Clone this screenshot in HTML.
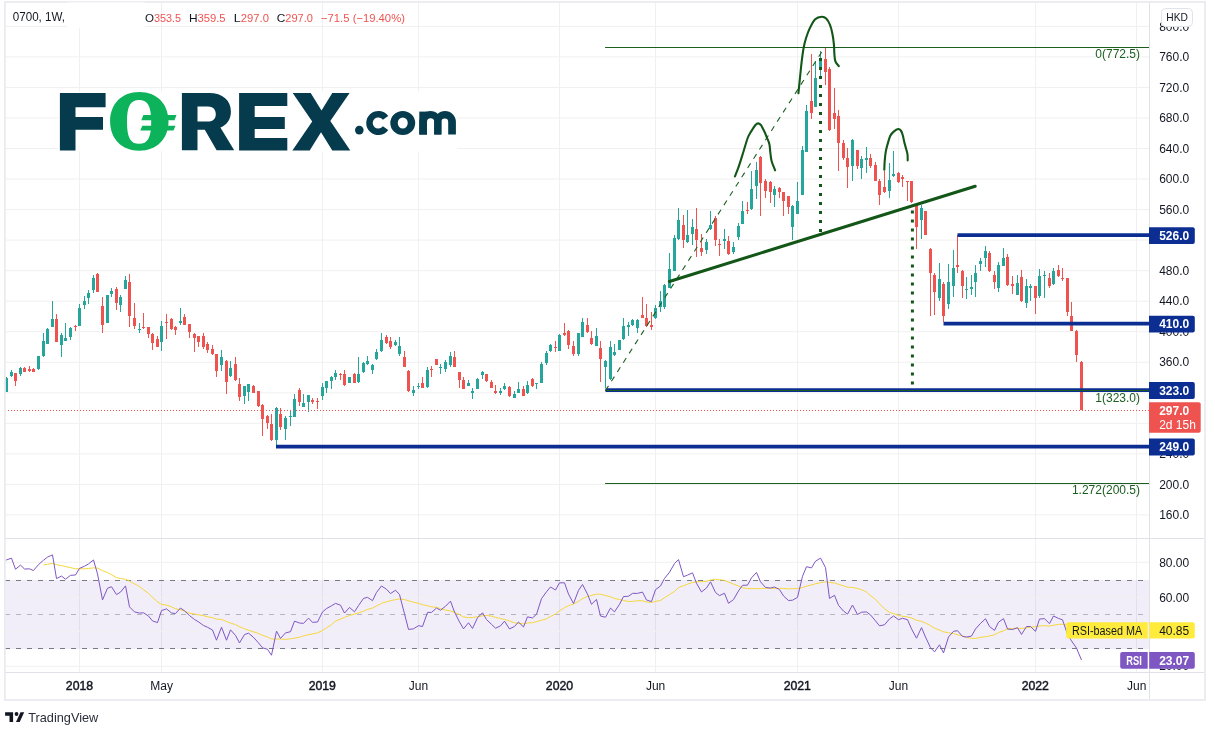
<!DOCTYPE html><html><head><meta charset="utf-8"><style>html,body{margin:0;padding:0;background:#fff;width:1215px;height:735px;overflow:hidden}svg text{font-family:"Liberation Sans",sans-serif}</style></head><body><svg width="1215" height="735" viewBox="0 0 1215 735" style="display:block;will-change:transform">
<defs><clipPath id="pc"><rect x="5.5" y="2.5" width="1143.5" height="535.5"/></clipPath><clipPath id="rc"><rect x="5.5" y="539" width="1143.5" height="133"/></clipPath></defs>
<rect x="0" y="0" width="1215" height="735" fill="#fff"/>
<line x1="79.5" y1="2.5" x2="79.5" y2="538" stroke="#f0f0f0" stroke-width="1"/>
<line x1="79.5" y1="539" x2="79.5" y2="672" stroke="#f0f0f0" stroke-width="1"/>
<line x1="161.5" y1="2.5" x2="161.5" y2="538" stroke="#f0f0f0" stroke-width="1"/>
<line x1="161.5" y1="539" x2="161.5" y2="672" stroke="#f0f0f0" stroke-width="1"/>
<line x1="322.5" y1="2.5" x2="322.5" y2="538" stroke="#f0f0f0" stroke-width="1"/>
<line x1="322.5" y1="539" x2="322.5" y2="672" stroke="#f0f0f0" stroke-width="1"/>
<line x1="418.5" y1="2.5" x2="418.5" y2="538" stroke="#f0f0f0" stroke-width="1"/>
<line x1="418.5" y1="539" x2="418.5" y2="672" stroke="#f0f0f0" stroke-width="1"/>
<line x1="559.5" y1="2.5" x2="559.5" y2="538" stroke="#f0f0f0" stroke-width="1"/>
<line x1="559.5" y1="539" x2="559.5" y2="672" stroke="#f0f0f0" stroke-width="1"/>
<line x1="655.5" y1="2.5" x2="655.5" y2="538" stroke="#f0f0f0" stroke-width="1"/>
<line x1="655.5" y1="539" x2="655.5" y2="672" stroke="#f0f0f0" stroke-width="1"/>
<line x1="797.5" y1="2.5" x2="797.5" y2="538" stroke="#f0f0f0" stroke-width="1"/>
<line x1="797.5" y1="539" x2="797.5" y2="672" stroke="#f0f0f0" stroke-width="1"/>
<line x1="898.5" y1="2.5" x2="898.5" y2="538" stroke="#f0f0f0" stroke-width="1"/>
<line x1="898.5" y1="539" x2="898.5" y2="672" stroke="#f0f0f0" stroke-width="1"/>
<line x1="1035.5" y1="2.5" x2="1035.5" y2="538" stroke="#f0f0f0" stroke-width="1"/>
<line x1="1035.5" y1="539" x2="1035.5" y2="672" stroke="#f0f0f0" stroke-width="1"/>
<line x1="1136.5" y1="2.5" x2="1136.5" y2="538" stroke="#f0f0f0" stroke-width="1"/>
<line x1="1136.5" y1="539" x2="1136.5" y2="672" stroke="#f0f0f0" stroke-width="1"/>
<line x1="5.5" y1="26.40" x2="1149.5" y2="26.40" stroke="#f0f0f0" stroke-width="1"/>
<line x1="5.5" y1="56.93" x2="1149.5" y2="56.93" stroke="#f0f0f0" stroke-width="1"/>
<line x1="5.5" y1="87.46" x2="1149.5" y2="87.46" stroke="#f0f0f0" stroke-width="1"/>
<line x1="5.5" y1="118.00" x2="1149.5" y2="118.00" stroke="#f0f0f0" stroke-width="1"/>
<line x1="5.5" y1="148.53" x2="1149.5" y2="148.53" stroke="#f0f0f0" stroke-width="1"/>
<line x1="5.5" y1="179.06" x2="1149.5" y2="179.06" stroke="#f0f0f0" stroke-width="1"/>
<line x1="5.5" y1="209.59" x2="1149.5" y2="209.59" stroke="#f0f0f0" stroke-width="1"/>
<line x1="5.5" y1="240.12" x2="1149.5" y2="240.12" stroke="#f0f0f0" stroke-width="1"/>
<line x1="5.5" y1="270.66" x2="1149.5" y2="270.66" stroke="#f0f0f0" stroke-width="1"/>
<line x1="5.5" y1="301.19" x2="1149.5" y2="301.19" stroke="#f0f0f0" stroke-width="1"/>
<line x1="5.5" y1="331.72" x2="1149.5" y2="331.72" stroke="#f0f0f0" stroke-width="1"/>
<line x1="5.5" y1="362.25" x2="1149.5" y2="362.25" stroke="#f0f0f0" stroke-width="1"/>
<line x1="5.5" y1="392.78" x2="1149.5" y2="392.78" stroke="#f0f0f0" stroke-width="1"/>
<line x1="5.5" y1="423.32" x2="1149.5" y2="423.32" stroke="#f0f0f0" stroke-width="1"/>
<line x1="5.5" y1="453.85" x2="1149.5" y2="453.85" stroke="#f0f0f0" stroke-width="1"/>
<line x1="5.5" y1="484.38" x2="1149.5" y2="484.38" stroke="#f0f0f0" stroke-width="1"/>
<line x1="5.5" y1="514.91" x2="1149.5" y2="514.91" stroke="#f0f0f0" stroke-width="1"/>
<rect x="5.5" y="580" width="1144.00" height="69" fill="#7e57c2" fill-opacity="0.1"/>
<line x1="5.5" y1="562.30" x2="1149.5" y2="562.30" stroke="#f0f0f0" stroke-width="1"/>
<line x1="5.5" y1="597.30" x2="1149.5" y2="597.30" stroke="#f0f0f0" stroke-width="1"/>
<line x1="5.5" y1="631.30" x2="1149.5" y2="631.30" stroke="#f0f0f0" stroke-width="1"/>
<line x1="5.5" y1="666.20" x2="1149.5" y2="666.20" stroke="#f0f0f0" stroke-width="1"/>
<line x1="5" y1="580.50" x2="1149.5" y2="580.50" stroke="#787b86" stroke-width="1" stroke-dasharray="5 6"/>
<line x1="5" y1="614.50" x2="1149.5" y2="614.50" stroke="#b4b5bd" stroke-width="1" stroke-dasharray="5 6"/>
<line x1="5" y1="648.50" x2="1149.5" y2="648.50" stroke="#787b86" stroke-width="1" stroke-dasharray="5 6"/>
<g clip-path="url(#pc)" shape-rendering="crispEdges">
<rect x="6.0" y="377" width="1" height="15" fill="#26a69a"/>
<rect x="5.0" y="378" width="3" height="14" fill="#26a69a"/>
<rect x="11.0" y="370" width="1" height="7" fill="#26a69a"/>
<rect x="10.0" y="372" width="3" height="4" fill="#26a69a"/>
<rect x="15.0" y="373" width="1" height="13" fill="#ef5350"/>
<rect x="14.0" y="373" width="3" height="8" fill="#ef5350"/>
<rect x="20.0" y="367" width="1" height="9" fill="#26a69a"/>
<rect x="19.0" y="368" width="3" height="6" fill="#26a69a"/>
<rect x="24.0" y="367" width="1" height="5" fill="#ef5350"/>
<rect x="23.0" y="368" width="3" height="4" fill="#ef5350"/>
<rect x="29.0" y="366" width="1" height="6" fill="#ef5350"/>
<rect x="28.0" y="369" width="3" height="2" fill="#ef5350"/>
<rect x="33.0" y="368" width="1" height="4" fill="#ef5350"/>
<rect x="32.0" y="369" width="3" height="3" fill="#ef5350"/>
<rect x="38.0" y="356" width="1" height="14" fill="#26a69a"/>
<rect x="37.0" y="356" width="3" height="13" fill="#26a69a"/>
<rect x="43.0" y="333" width="1" height="24" fill="#26a69a"/>
<rect x="42.0" y="341" width="3" height="15" fill="#26a69a"/>
<rect x="47.0" y="328" width="1" height="16" fill="#26a69a"/>
<rect x="46.0" y="329" width="3" height="15" fill="#26a69a"/>
<rect x="52.0" y="301" width="1" height="26" fill="#26a69a"/>
<rect x="51.0" y="319" width="3" height="8" fill="#26a69a"/>
<rect x="56.0" y="314" width="1" height="28" fill="#ef5350"/>
<rect x="55.0" y="319" width="3" height="23" fill="#ef5350"/>
<rect x="61.0" y="333" width="1" height="24" fill="#26a69a"/>
<rect x="60.0" y="335" width="3" height="10" fill="#26a69a"/>
<rect x="65.0" y="323" width="1" height="18" fill="#26a69a"/>
<rect x="64.0" y="338" width="3" height="3" fill="#26a69a"/>
<rect x="70.0" y="327" width="1" height="13" fill="#26a69a"/>
<rect x="69.0" y="328" width="3" height="9" fill="#26a69a"/>
<rect x="75.0" y="325" width="1" height="6" fill="#ef5350"/>
<rect x="74.0" y="326" width="3" height="1" fill="#ef5350"/>
<rect x="79.0" y="304" width="1" height="22" fill="#26a69a"/>
<rect x="78.0" y="308" width="3" height="18" fill="#26a69a"/>
<rect x="84.0" y="296" width="1" height="13" fill="#26a69a"/>
<rect x="83.0" y="301" width="3" height="4" fill="#26a69a"/>
<rect x="88.0" y="290" width="1" height="14" fill="#26a69a"/>
<rect x="87.0" y="293" width="3" height="5" fill="#26a69a"/>
<rect x="93.0" y="275" width="1" height="18" fill="#26a69a"/>
<rect x="92.0" y="278" width="3" height="12" fill="#26a69a"/>
<rect x="97.0" y="273" width="1" height="19" fill="#ef5350"/>
<rect x="96.0" y="274" width="3" height="18" fill="#ef5350"/>
<rect x="102.0" y="297" width="1" height="36" fill="#ef5350"/>
<rect x="101.0" y="306" width="3" height="19" fill="#ef5350"/>
<rect x="107.0" y="295" width="1" height="28" fill="#26a69a"/>
<rect x="106.0" y="295" width="3" height="28" fill="#26a69a"/>
<rect x="111.0" y="288" width="1" height="9" fill="#26a69a"/>
<rect x="110.0" y="291" width="3" height="3" fill="#26a69a"/>
<rect x="116.0" y="287" width="1" height="23" fill="#ef5350"/>
<rect x="115.0" y="289" width="3" height="14" fill="#ef5350"/>
<rect x="120.0" y="295" width="1" height="17" fill="#26a69a"/>
<rect x="119.0" y="297" width="3" height="8" fill="#26a69a"/>
<rect x="125.0" y="276" width="1" height="13" fill="#26a69a"/>
<rect x="124.0" y="280" width="3" height="9" fill="#26a69a"/>
<rect x="129.0" y="274" width="1" height="53" fill="#ef5350"/>
<rect x="128.0" y="282" width="3" height="34" fill="#ef5350"/>
<rect x="134.0" y="303" width="1" height="26" fill="#ef5350"/>
<rect x="133.0" y="318" width="3" height="8" fill="#ef5350"/>
<rect x="139.0" y="323" width="1" height="10" fill="#26a69a"/>
<rect x="138.0" y="329" width="3" height="1" fill="#26a69a"/>
<rect x="143.0" y="313" width="1" height="16" fill="#ef5350"/>
<rect x="142.0" y="327" width="3" height="1" fill="#ef5350"/>
<rect x="148.0" y="327" width="1" height="11" fill="#ef5350"/>
<rect x="147.0" y="327" width="3" height="7" fill="#ef5350"/>
<rect x="152.0" y="333" width="1" height="17" fill="#ef5350"/>
<rect x="151.0" y="334" width="3" height="9" fill="#ef5350"/>
<rect x="157.0" y="336" width="1" height="11" fill="#ef5350"/>
<rect x="156.0" y="339" width="3" height="8" fill="#ef5350"/>
<rect x="161.0" y="321" width="1" height="30" fill="#26a69a"/>
<rect x="160.0" y="326" width="3" height="16" fill="#26a69a"/>
<rect x="166.0" y="314" width="1" height="25" fill="#ef5350"/>
<rect x="165.0" y="322" width="3" height="1" fill="#ef5350"/>
<rect x="171.0" y="318" width="1" height="12" fill="#ef5350"/>
<rect x="170.0" y="319" width="3" height="10" fill="#ef5350"/>
<rect x="175.0" y="326" width="1" height="9" fill="#ef5350"/>
<rect x="174.0" y="327" width="3" height="3" fill="#ef5350"/>
<rect x="180.0" y="308" width="1" height="17" fill="#26a69a"/>
<rect x="179.0" y="321" width="3" height="2" fill="#26a69a"/>
<rect x="184.0" y="314" width="1" height="11" fill="#ef5350"/>
<rect x="183.0" y="317" width="3" height="8" fill="#ef5350"/>
<rect x="189.0" y="324" width="1" height="14" fill="#ef5350"/>
<rect x="188.0" y="324" width="3" height="8" fill="#ef5350"/>
<rect x="194.0" y="333" width="1" height="19" fill="#ef5350"/>
<rect x="193.0" y="334" width="3" height="4" fill="#ef5350"/>
<rect x="198.0" y="336" width="1" height="11" fill="#ef5350"/>
<rect x="197.0" y="336" width="3" height="6" fill="#ef5350"/>
<rect x="203.0" y="333" width="1" height="16" fill="#ef5350"/>
<rect x="202.0" y="336" width="3" height="11" fill="#ef5350"/>
<rect x="207.0" y="342" width="1" height="11" fill="#ef5350"/>
<rect x="206.0" y="344" width="3" height="6" fill="#ef5350"/>
<rect x="212.0" y="345" width="1" height="10" fill="#ef5350"/>
<rect x="211.0" y="349" width="3" height="5" fill="#ef5350"/>
<rect x="216.0" y="354" width="1" height="23" fill="#ef5350"/>
<rect x="215.0" y="354" width="3" height="17" fill="#ef5350"/>
<rect x="221.0" y="350" width="1" height="21" fill="#26a69a"/>
<rect x="220.0" y="357" width="3" height="8" fill="#26a69a"/>
<rect x="226.0" y="360" width="1" height="34" fill="#ef5350"/>
<rect x="225.0" y="361" width="3" height="21" fill="#ef5350"/>
<rect x="230.0" y="361" width="1" height="16" fill="#26a69a"/>
<rect x="229.0" y="368" width="3" height="8" fill="#26a69a"/>
<rect x="235.0" y="357" width="1" height="24" fill="#ef5350"/>
<rect x="234.0" y="364" width="3" height="16" fill="#ef5350"/>
<rect x="239.0" y="378" width="1" height="23" fill="#ef5350"/>
<rect x="238.0" y="384" width="3" height="13" fill="#ef5350"/>
<rect x="244.0" y="386" width="1" height="18" fill="#26a69a"/>
<rect x="243.0" y="386" width="3" height="10" fill="#26a69a"/>
<rect x="248.0" y="384" width="1" height="17" fill="#26a69a"/>
<rect x="247.0" y="384" width="3" height="8" fill="#26a69a"/>
<rect x="253.0" y="385" width="1" height="8" fill="#ef5350"/>
<rect x="252.0" y="386" width="3" height="7" fill="#ef5350"/>
<rect x="258.0" y="391" width="1" height="16" fill="#ef5350"/>
<rect x="257.0" y="391" width="3" height="15" fill="#ef5350"/>
<rect x="262.0" y="404" width="1" height="32" fill="#ef5350"/>
<rect x="261.0" y="405" width="3" height="14" fill="#ef5350"/>
<rect x="267.0" y="415" width="1" height="14" fill="#ef5350"/>
<rect x="266.0" y="416" width="3" height="7" fill="#ef5350"/>
<rect x="271.0" y="414" width="1" height="27" fill="#ef5350"/>
<rect x="270.0" y="424" width="3" height="16" fill="#ef5350"/>
<rect x="276.0" y="407" width="1" height="39" fill="#26a69a"/>
<rect x="275.0" y="408" width="3" height="32" fill="#26a69a"/>
<rect x="280.0" y="408" width="1" height="22" fill="#ef5350"/>
<rect x="279.0" y="414" width="3" height="13" fill="#ef5350"/>
<rect x="285.0" y="416" width="1" height="24" fill="#26a69a"/>
<rect x="284.0" y="418" width="3" height="11" fill="#26a69a"/>
<rect x="290.0" y="410" width="1" height="16" fill="#26a69a"/>
<rect x="289.0" y="416" width="3" height="1" fill="#26a69a"/>
<rect x="294.0" y="394" width="1" height="23" fill="#26a69a"/>
<rect x="293.0" y="399" width="3" height="18" fill="#26a69a"/>
<rect x="299.0" y="388" width="1" height="18" fill="#ef5350"/>
<rect x="298.0" y="390" width="3" height="12" fill="#ef5350"/>
<rect x="303.0" y="394" width="1" height="13" fill="#26a69a"/>
<rect x="302.0" y="403" width="3" height="4" fill="#26a69a"/>
<rect x="308.0" y="395" width="1" height="17" fill="#26a69a"/>
<rect x="307.0" y="395" width="3" height="7" fill="#26a69a"/>
<rect x="312.0" y="398" width="1" height="6" fill="#ef5350"/>
<rect x="311.0" y="400" width="3" height="2" fill="#ef5350"/>
<rect x="317.0" y="398" width="1" height="11" fill="#ef5350"/>
<rect x="316.0" y="401" width="3" height="1" fill="#ef5350"/>
<rect x="322.0" y="383" width="1" height="17" fill="#26a69a"/>
<rect x="321.0" y="387" width="3" height="9" fill="#26a69a"/>
<rect x="326.0" y="381" width="1" height="12" fill="#26a69a"/>
<rect x="325.0" y="381" width="3" height="7" fill="#26a69a"/>
<rect x="331.0" y="376" width="1" height="13" fill="#26a69a"/>
<rect x="330.0" y="377" width="3" height="4" fill="#26a69a"/>
<rect x="335.0" y="370" width="1" height="10" fill="#26a69a"/>
<rect x="334.0" y="373" width="3" height="4" fill="#26a69a"/>
<rect x="340.0" y="373" width="1" height="7" fill="#ef5350"/>
<rect x="339.0" y="374" width="3" height="1" fill="#ef5350"/>
<rect x="344.0" y="370" width="1" height="16" fill="#ef5350"/>
<rect x="343.0" y="374" width="3" height="11" fill="#ef5350"/>
<rect x="349.0" y="377" width="1" height="6" fill="#26a69a"/>
<rect x="348.0" y="377" width="3" height="6" fill="#26a69a"/>
<rect x="354.0" y="373" width="1" height="10" fill="#ef5350"/>
<rect x="353.0" y="374" width="3" height="9" fill="#ef5350"/>
<rect x="358.0" y="357" width="1" height="26" fill="#26a69a"/>
<rect x="357.0" y="374" width="3" height="8" fill="#26a69a"/>
<rect x="363.0" y="362" width="1" height="11" fill="#26a69a"/>
<rect x="362.0" y="363" width="3" height="9" fill="#26a69a"/>
<rect x="367.0" y="356" width="1" height="9" fill="#26a69a"/>
<rect x="366.0" y="361" width="3" height="3" fill="#26a69a"/>
<rect x="372.0" y="364" width="1" height="10" fill="#26a69a"/>
<rect x="371.0" y="365" width="3" height="5" fill="#26a69a"/>
<rect x="376.0" y="349" width="1" height="11" fill="#26a69a"/>
<rect x="375.0" y="352" width="3" height="7" fill="#26a69a"/>
<rect x="381.0" y="333" width="1" height="19" fill="#26a69a"/>
<rect x="380.0" y="340" width="3" height="11" fill="#26a69a"/>
<rect x="386.0" y="335" width="1" height="9" fill="#ef5350"/>
<rect x="385.0" y="337" width="3" height="6" fill="#ef5350"/>
<rect x="390.0" y="337" width="1" height="12" fill="#ef5350"/>
<rect x="389.0" y="341" width="3" height="6" fill="#ef5350"/>
<rect x="395.0" y="340" width="1" height="6" fill="#26a69a"/>
<rect x="394.0" y="342" width="3" height="3" fill="#26a69a"/>
<rect x="399.0" y="337" width="1" height="19" fill="#26a69a"/>
<rect x="398.0" y="346" width="3" height="8" fill="#26a69a"/>
<rect x="404.0" y="351" width="1" height="16" fill="#ef5350"/>
<rect x="403.0" y="357" width="3" height="10" fill="#ef5350"/>
<rect x="408.0" y="370" width="1" height="22" fill="#ef5350"/>
<rect x="407.0" y="371" width="3" height="20" fill="#ef5350"/>
<rect x="413.0" y="386" width="1" height="10" fill="#26a69a"/>
<rect x="412.0" y="390" width="3" height="3" fill="#26a69a"/>
<rect x="418.0" y="383" width="1" height="6" fill="#26a69a"/>
<rect x="417.0" y="386" width="3" height="1" fill="#26a69a"/>
<rect x="422.0" y="377" width="1" height="11" fill="#ef5350"/>
<rect x="421.0" y="383" width="3" height="5" fill="#ef5350"/>
<rect x="427.0" y="367" width="1" height="21" fill="#26a69a"/>
<rect x="426.0" y="370" width="3" height="17" fill="#26a69a"/>
<rect x="431.0" y="366" width="1" height="11" fill="#ef5350"/>
<rect x="430.0" y="369" width="3" height="1" fill="#ef5350"/>
<rect x="436.0" y="359" width="1" height="6" fill="#ef5350"/>
<rect x="435.0" y="359" width="3" height="6" fill="#ef5350"/>
<rect x="440.0" y="364" width="1" height="10" fill="#26a69a"/>
<rect x="439.0" y="367" width="3" height="1" fill="#26a69a"/>
<rect x="445.0" y="360" width="1" height="12" fill="#26a69a"/>
<rect x="444.0" y="362" width="3" height="7" fill="#26a69a"/>
<rect x="450.0" y="352" width="1" height="15" fill="#26a69a"/>
<rect x="449.0" y="356" width="3" height="9" fill="#26a69a"/>
<rect x="454.0" y="351" width="1" height="16" fill="#ef5350"/>
<rect x="453.0" y="357" width="3" height="10" fill="#ef5350"/>
<rect x="459.0" y="372" width="1" height="16" fill="#ef5350"/>
<rect x="458.0" y="372" width="3" height="8" fill="#ef5350"/>
<rect x="463.0" y="377" width="1" height="12" fill="#ef5350"/>
<rect x="462.0" y="380" width="3" height="9" fill="#ef5350"/>
<rect x="468.0" y="380" width="1" height="6" fill="#26a69a"/>
<rect x="467.0" y="383" width="3" height="3" fill="#26a69a"/>
<rect x="472.0" y="388" width="1" height="11" fill="#26a69a"/>
<rect x="471.0" y="391" width="3" height="2" fill="#26a69a"/>
<rect x="477.0" y="378" width="1" height="11" fill="#26a69a"/>
<rect x="476.0" y="379" width="3" height="10" fill="#26a69a"/>
<rect x="482.0" y="371" width="1" height="8" fill="#26a69a"/>
<rect x="481.0" y="372" width="3" height="3" fill="#26a69a"/>
<rect x="486.0" y="374" width="1" height="8" fill="#ef5350"/>
<rect x="485.0" y="374" width="3" height="7" fill="#ef5350"/>
<rect x="491.0" y="380" width="1" height="8" fill="#ef5350"/>
<rect x="490.0" y="382" width="3" height="6" fill="#ef5350"/>
<rect x="495.0" y="385" width="1" height="9" fill="#ef5350"/>
<rect x="494.0" y="391" width="3" height="2" fill="#ef5350"/>
<rect x="500.0" y="388" width="1" height="7" fill="#26a69a"/>
<rect x="499.0" y="391" width="3" height="2" fill="#26a69a"/>
<rect x="504.0" y="383" width="1" height="7" fill="#26a69a"/>
<rect x="503.0" y="386" width="3" height="3" fill="#26a69a"/>
<rect x="509.0" y="386" width="1" height="11" fill="#ef5350"/>
<rect x="508.0" y="387" width="3" height="9" fill="#ef5350"/>
<rect x="514.0" y="391" width="1" height="7" fill="#26a69a"/>
<rect x="513.0" y="394" width="3" height="4" fill="#26a69a"/>
<rect x="518.0" y="382" width="1" height="11" fill="#26a69a"/>
<rect x="517.0" y="389" width="3" height="4" fill="#26a69a"/>
<rect x="523.0" y="386" width="1" height="10" fill="#ef5350"/>
<rect x="522.0" y="389" width="3" height="7" fill="#ef5350"/>
<rect x="527.0" y="381" width="1" height="13" fill="#26a69a"/>
<rect x="526.0" y="385" width="3" height="8" fill="#26a69a"/>
<rect x="532.0" y="378" width="1" height="9" fill="#ef5350"/>
<rect x="531.0" y="379" width="3" height="7" fill="#ef5350"/>
<rect x="536.0" y="383" width="1" height="6" fill="#26a69a"/>
<rect x="535.0" y="383" width="3" height="1" fill="#26a69a"/>
<rect x="541.0" y="362" width="1" height="21" fill="#26a69a"/>
<rect x="540.0" y="364" width="3" height="19" fill="#26a69a"/>
<rect x="546.0" y="351" width="1" height="14" fill="#26a69a"/>
<rect x="545.0" y="353" width="3" height="10" fill="#26a69a"/>
<rect x="550.0" y="344" width="1" height="8" fill="#26a69a"/>
<rect x="549.0" y="345" width="3" height="6" fill="#26a69a"/>
<rect x="555.0" y="341" width="1" height="11" fill="#ef5350"/>
<rect x="554.0" y="347" width="3" height="1" fill="#ef5350"/>
<rect x="559.0" y="334" width="1" height="17" fill="#26a69a"/>
<rect x="558.0" y="335" width="3" height="16" fill="#26a69a"/>
<rect x="564.0" y="323" width="1" height="13" fill="#ef5350"/>
<rect x="563.0" y="333" width="3" height="2" fill="#ef5350"/>
<rect x="568.0" y="330" width="1" height="19" fill="#ef5350"/>
<rect x="567.0" y="331" width="3" height="14" fill="#ef5350"/>
<rect x="573.0" y="341" width="1" height="15" fill="#ef5350"/>
<rect x="572.0" y="346" width="3" height="8" fill="#ef5350"/>
<rect x="578.0" y="333" width="1" height="23" fill="#26a69a"/>
<rect x="577.0" y="333" width="3" height="21" fill="#26a69a"/>
<rect x="582.0" y="318" width="1" height="19" fill="#26a69a"/>
<rect x="581.0" y="322" width="3" height="15" fill="#26a69a"/>
<rect x="587.0" y="318" width="1" height="15" fill="#ef5350"/>
<rect x="586.0" y="325" width="3" height="7" fill="#ef5350"/>
<rect x="591.0" y="331" width="1" height="14" fill="#ef5350"/>
<rect x="590.0" y="338" width="3" height="6" fill="#ef5350"/>
<rect x="596.0" y="328" width="1" height="18" fill="#26a69a"/>
<rect x="595.0" y="336" width="3" height="10" fill="#26a69a"/>
<rect x="600.0" y="341" width="1" height="41" fill="#ef5350"/>
<rect x="599.0" y="348" width="3" height="11" fill="#ef5350"/>
<rect x="605.0" y="360" width="1" height="28" fill="#26a69a"/>
<rect x="604.0" y="361" width="3" height="6" fill="#26a69a"/>
<rect x="610.0" y="341" width="1" height="39" fill="#26a69a"/>
<rect x="609.0" y="347" width="3" height="32" fill="#26a69a"/>
<rect x="614.0" y="344" width="1" height="12" fill="#26a69a"/>
<rect x="613.0" y="352" width="3" height="3" fill="#26a69a"/>
<rect x="619.0" y="340" width="1" height="10" fill="#26a69a"/>
<rect x="618.0" y="340" width="3" height="10" fill="#26a69a"/>
<rect x="623.0" y="318" width="1" height="22" fill="#26a69a"/>
<rect x="622.0" y="326" width="3" height="13" fill="#26a69a"/>
<rect x="628.0" y="322" width="1" height="14" fill="#26a69a"/>
<rect x="627.0" y="325" width="3" height="2" fill="#26a69a"/>
<rect x="632.0" y="319" width="1" height="7" fill="#26a69a"/>
<rect x="631.0" y="320" width="3" height="5" fill="#26a69a"/>
<rect x="637.0" y="319" width="1" height="14" fill="#26a69a"/>
<rect x="636.0" y="320" width="3" height="8" fill="#26a69a"/>
<rect x="642.0" y="297" width="1" height="21" fill="#ef5350"/>
<rect x="641.0" y="315" width="3" height="3" fill="#ef5350"/>
<rect x="646.0" y="304" width="1" height="23" fill="#ef5350"/>
<rect x="645.0" y="318" width="3" height="8" fill="#ef5350"/>
<rect x="651.0" y="312" width="1" height="18" fill="#ef5350"/>
<rect x="650.0" y="325" width="3" height="2" fill="#ef5350"/>
<rect x="655.0" y="305" width="1" height="14" fill="#26a69a"/>
<rect x="654.0" y="308" width="3" height="10" fill="#26a69a"/>
<rect x="660.0" y="291" width="1" height="21" fill="#26a69a"/>
<rect x="659.0" y="301" width="3" height="6" fill="#26a69a"/>
<rect x="664.0" y="284" width="1" height="25" fill="#26a69a"/>
<rect x="663.0" y="285" width="3" height="22" fill="#26a69a"/>
<rect x="669.0" y="253" width="1" height="35" fill="#26a69a"/>
<rect x="668.0" y="269" width="3" height="19" fill="#26a69a"/>
<rect x="674.0" y="235" width="1" height="36" fill="#26a69a"/>
<rect x="673.0" y="238" width="3" height="33" fill="#26a69a"/>
<rect x="678.0" y="208" width="1" height="32" fill="#26a69a"/>
<rect x="677.0" y="220" width="3" height="19" fill="#26a69a"/>
<rect x="683.0" y="215" width="1" height="33" fill="#ef5350"/>
<rect x="682.0" y="225" width="3" height="15" fill="#ef5350"/>
<rect x="687.0" y="210" width="1" height="33" fill="#26a69a"/>
<rect x="686.0" y="235" width="3" height="7" fill="#26a69a"/>
<rect x="692.0" y="219" width="1" height="26" fill="#26a69a"/>
<rect x="691.0" y="227" width="3" height="7" fill="#26a69a"/>
<rect x="696.0" y="208" width="1" height="49" fill="#ef5350"/>
<rect x="695.0" y="229" width="3" height="11" fill="#ef5350"/>
<rect x="701.0" y="234" width="1" height="22" fill="#ef5350"/>
<rect x="700.0" y="248" width="3" height="4" fill="#ef5350"/>
<rect x="706.0" y="239" width="1" height="15" fill="#26a69a"/>
<rect x="705.0" y="242" width="3" height="8" fill="#26a69a"/>
<rect x="710.0" y="211" width="1" height="19" fill="#26a69a"/>
<rect x="709.0" y="225" width="3" height="4" fill="#26a69a"/>
<rect x="715.0" y="216" width="1" height="30" fill="#ef5350"/>
<rect x="714.0" y="218" width="3" height="22" fill="#ef5350"/>
<rect x="719.0" y="239" width="1" height="17" fill="#ef5350"/>
<rect x="718.0" y="244" width="3" height="1" fill="#ef5350"/>
<rect x="724.0" y="229" width="1" height="20" fill="#26a69a"/>
<rect x="723.0" y="239" width="3" height="2" fill="#26a69a"/>
<rect x="728.0" y="236" width="1" height="19" fill="#ef5350"/>
<rect x="727.0" y="241" width="3" height="13" fill="#ef5350"/>
<rect x="733.0" y="242" width="1" height="12" fill="#26a69a"/>
<rect x="732.0" y="247" width="3" height="5" fill="#26a69a"/>
<rect x="738.0" y="223" width="1" height="17" fill="#26a69a"/>
<rect x="737.0" y="226" width="3" height="11" fill="#26a69a"/>
<rect x="742.0" y="201" width="1" height="23" fill="#26a69a"/>
<rect x="741.0" y="211" width="3" height="13" fill="#26a69a"/>
<rect x="747.0" y="202" width="1" height="12" fill="#ef5350"/>
<rect x="746.0" y="210" width="3" height="1" fill="#ef5350"/>
<rect x="751.0" y="171" width="1" height="39" fill="#26a69a"/>
<rect x="750.0" y="189" width="3" height="20" fill="#26a69a"/>
<rect x="756.0" y="162" width="1" height="37" fill="#26a69a"/>
<rect x="755.0" y="170" width="3" height="16" fill="#26a69a"/>
<rect x="760.0" y="156" width="1" height="60" fill="#ef5350"/>
<rect x="759.0" y="157" width="3" height="26" fill="#ef5350"/>
<rect x="765.0" y="179" width="1" height="19" fill="#ef5350"/>
<rect x="764.0" y="181" width="3" height="10" fill="#ef5350"/>
<rect x="770.0" y="181" width="1" height="22" fill="#ef5350"/>
<rect x="769.0" y="182" width="3" height="10" fill="#ef5350"/>
<rect x="774.0" y="186" width="1" height="21" fill="#26a69a"/>
<rect x="773.0" y="189" width="3" height="6" fill="#26a69a"/>
<rect x="779.0" y="187" width="1" height="11" fill="#ef5350"/>
<rect x="778.0" y="188" width="3" height="4" fill="#ef5350"/>
<rect x="783.0" y="192" width="1" height="24" fill="#ef5350"/>
<rect x="782.0" y="192" width="3" height="9" fill="#ef5350"/>
<rect x="788.0" y="196" width="1" height="18" fill="#ef5350"/>
<rect x="787.0" y="196" width="3" height="11" fill="#ef5350"/>
<rect x="792.0" y="205" width="1" height="35" fill="#26a69a"/>
<rect x="791.0" y="206" width="3" height="21" fill="#26a69a"/>
<rect x="797.0" y="182" width="1" height="32" fill="#26a69a"/>
<rect x="796.0" y="201" width="3" height="13" fill="#26a69a"/>
<rect x="802.0" y="146" width="1" height="49" fill="#26a69a"/>
<rect x="801.0" y="150" width="3" height="45" fill="#26a69a"/>
<rect x="806.0" y="105" width="1" height="47" fill="#26a69a"/>
<rect x="805.0" y="111" width="3" height="41" fill="#26a69a"/>
<rect x="811.0" y="54" width="1" height="65" fill="#ef5350"/>
<rect x="810.0" y="101" width="3" height="12" fill="#ef5350"/>
<rect x="815.0" y="61" width="1" height="46" fill="#26a69a"/>
<rect x="814.0" y="78" width="3" height="29" fill="#26a69a"/>
<rect x="820.0" y="51" width="1" height="26" fill="#26a69a"/>
<rect x="819.0" y="58" width="3" height="11" fill="#26a69a"/>
<rect x="825.0" y="48" width="1" height="37" fill="#ef5350"/>
<rect x="824.0" y="59" width="3" height="13" fill="#ef5350"/>
<rect x="829.0" y="67" width="1" height="64" fill="#ef5350"/>
<rect x="828.0" y="69" width="3" height="61" fill="#ef5350"/>
<rect x="834.0" y="88" width="1" height="41" fill="#ef5350"/>
<rect x="833.0" y="113" width="3" height="6" fill="#ef5350"/>
<rect x="838.0" y="110" width="1" height="61" fill="#ef5350"/>
<rect x="837.0" y="116" width="3" height="27" fill="#ef5350"/>
<rect x="843.0" y="140" width="1" height="20" fill="#ef5350"/>
<rect x="842.0" y="143" width="3" height="15" fill="#ef5350"/>
<rect x="847.0" y="148" width="1" height="40" fill="#ef5350"/>
<rect x="846.0" y="158" width="3" height="9" fill="#ef5350"/>
<rect x="852.0" y="139" width="1" height="42" fill="#26a69a"/>
<rect x="851.0" y="140" width="3" height="26" fill="#26a69a"/>
<rect x="857.0" y="150" width="1" height="19" fill="#ef5350"/>
<rect x="856.0" y="150" width="3" height="16" fill="#ef5350"/>
<rect x="861.0" y="156" width="1" height="23" fill="#26a69a"/>
<rect x="860.0" y="159" width="3" height="9" fill="#26a69a"/>
<rect x="866.0" y="147" width="1" height="26" fill="#26a69a"/>
<rect x="865.0" y="158" width="3" height="2" fill="#26a69a"/>
<rect x="870.0" y="154" width="1" height="14" fill="#ef5350"/>
<rect x="869.0" y="158" width="3" height="8" fill="#ef5350"/>
<rect x="875.0" y="162" width="1" height="19" fill="#ef5350"/>
<rect x="874.0" y="165" width="3" height="16" fill="#ef5350"/>
<rect x="879.0" y="179" width="1" height="26" fill="#ef5350"/>
<rect x="878.0" y="181" width="3" height="14" fill="#ef5350"/>
<rect x="884.0" y="171" width="1" height="22" fill="#ef5350"/>
<rect x="883.0" y="187" width="3" height="5" fill="#ef5350"/>
<rect x="889.0" y="163" width="1" height="35" fill="#26a69a"/>
<rect x="888.0" y="180" width="3" height="11" fill="#26a69a"/>
<rect x="893.0" y="151" width="1" height="26" fill="#26a69a"/>
<rect x="892.0" y="174" width="3" height="2" fill="#26a69a"/>
<rect x="898.0" y="172" width="1" height="11" fill="#ef5350"/>
<rect x="897.0" y="173" width="3" height="9" fill="#ef5350"/>
<rect x="902.0" y="175" width="1" height="12" fill="#ef5350"/>
<rect x="901.0" y="177" width="3" height="2" fill="#ef5350"/>
<rect x="907.0" y="181" width="1" height="20" fill="#ef5350"/>
<rect x="906.0" y="181" width="3" height="1" fill="#ef5350"/>
<rect x="911.0" y="181" width="1" height="22" fill="#ef5350"/>
<rect x="910.0" y="181" width="3" height="21" fill="#ef5350"/>
<rect x="916.0" y="205" width="1" height="44" fill="#ef5350"/>
<rect x="915.0" y="205" width="3" height="22" fill="#ef5350"/>
<rect x="921.0" y="205" width="1" height="34" fill="#26a69a"/>
<rect x="920.0" y="208" width="3" height="12" fill="#26a69a"/>
<rect x="925.0" y="211" width="1" height="24" fill="#ef5350"/>
<rect x="924.0" y="211" width="3" height="24" fill="#ef5350"/>
<rect x="930.0" y="248" width="1" height="68" fill="#ef5350"/>
<rect x="929.0" y="249" width="3" height="24" fill="#ef5350"/>
<rect x="934.0" y="273" width="1" height="42" fill="#ef5350"/>
<rect x="933.0" y="275" width="3" height="17" fill="#ef5350"/>
<rect x="939.0" y="263" width="1" height="38" fill="#26a69a"/>
<rect x="938.0" y="279" width="3" height="19" fill="#26a69a"/>
<rect x="943.0" y="282" width="1" height="40" fill="#ef5350"/>
<rect x="942.0" y="284" width="3" height="32" fill="#ef5350"/>
<rect x="948.0" y="264" width="1" height="45" fill="#26a69a"/>
<rect x="947.0" y="282" width="3" height="22" fill="#26a69a"/>
<rect x="953.0" y="250" width="1" height="47" fill="#26a69a"/>
<rect x="952.0" y="268" width="3" height="18" fill="#26a69a"/>
<rect x="957.0" y="235" width="1" height="38" fill="#ef5350"/>
<rect x="956.0" y="265" width="3" height="2" fill="#ef5350"/>
<rect x="962.0" y="270" width="1" height="28" fill="#ef5350"/>
<rect x="961.0" y="271" width="3" height="15" fill="#ef5350"/>
<rect x="966.0" y="277" width="1" height="22" fill="#26a69a"/>
<rect x="965.0" y="289" width="3" height="1" fill="#26a69a"/>
<rect x="971.0" y="275" width="1" height="20" fill="#26a69a"/>
<rect x="970.0" y="287" width="3" height="2" fill="#26a69a"/>
<rect x="975.0" y="265" width="1" height="32" fill="#26a69a"/>
<rect x="974.0" y="273" width="3" height="9" fill="#26a69a"/>
<rect x="980.0" y="258" width="1" height="13" fill="#26a69a"/>
<rect x="979.0" y="261" width="3" height="3" fill="#26a69a"/>
<rect x="985.0" y="246" width="1" height="21" fill="#26a69a"/>
<rect x="984.0" y="251" width="3" height="7" fill="#26a69a"/>
<rect x="989.0" y="251" width="1" height="21" fill="#ef5350"/>
<rect x="988.0" y="253" width="3" height="18" fill="#ef5350"/>
<rect x="994.0" y="271" width="1" height="18" fill="#ef5350"/>
<rect x="993.0" y="275" width="3" height="7" fill="#ef5350"/>
<rect x="998.0" y="262" width="1" height="30" fill="#26a69a"/>
<rect x="997.0" y="265" width="3" height="23" fill="#26a69a"/>
<rect x="1003.0" y="248" width="1" height="18" fill="#26a69a"/>
<rect x="1002.0" y="258" width="3" height="8" fill="#26a69a"/>
<rect x="1007.0" y="254" width="1" height="32" fill="#ef5350"/>
<rect x="1006.0" y="257" width="3" height="28" fill="#ef5350"/>
<rect x="1012.0" y="276" width="1" height="18" fill="#ef5350"/>
<rect x="1011.0" y="284" width="3" height="2" fill="#ef5350"/>
<rect x="1017.0" y="275" width="1" height="20" fill="#26a69a"/>
<rect x="1016.0" y="283" width="3" height="12" fill="#26a69a"/>
<rect x="1021.0" y="270" width="1" height="32" fill="#ef5350"/>
<rect x="1020.0" y="277" width="3" height="24" fill="#ef5350"/>
<rect x="1026.0" y="279" width="1" height="29" fill="#26a69a"/>
<rect x="1025.0" y="286" width="3" height="17" fill="#26a69a"/>
<rect x="1030.0" y="284" width="1" height="17" fill="#26a69a"/>
<rect x="1029.0" y="286" width="3" height="2" fill="#26a69a"/>
<rect x="1035.0" y="286" width="1" height="28" fill="#ef5350"/>
<rect x="1034.0" y="286" width="3" height="12" fill="#ef5350"/>
<rect x="1039.0" y="269" width="1" height="29" fill="#26a69a"/>
<rect x="1038.0" y="276" width="3" height="20" fill="#26a69a"/>
<rect x="1044.0" y="271" width="1" height="27" fill="#26a69a"/>
<rect x="1043.0" y="275" width="3" height="1" fill="#26a69a"/>
<rect x="1049.0" y="273" width="1" height="15" fill="#ef5350"/>
<rect x="1048.0" y="278" width="3" height="8" fill="#ef5350"/>
<rect x="1053.0" y="268" width="1" height="17" fill="#26a69a"/>
<rect x="1052.0" y="271" width="3" height="13" fill="#26a69a"/>
<rect x="1058.0" y="265" width="1" height="12" fill="#ef5350"/>
<rect x="1057.0" y="270" width="3" height="6" fill="#ef5350"/>
<rect x="1062.0" y="268" width="1" height="13" fill="#ef5350"/>
<rect x="1061.0" y="278" width="3" height="1" fill="#ef5350"/>
<rect x="1067.0" y="278" width="1" height="38" fill="#ef5350"/>
<rect x="1066.0" y="278" width="3" height="34" fill="#ef5350"/>
<rect x="1071.0" y="302" width="1" height="29" fill="#ef5350"/>
<rect x="1070.0" y="316" width="3" height="15" fill="#ef5350"/>
<rect x="1076.0" y="330" width="1" height="32" fill="#ef5350"/>
<rect x="1075.0" y="331" width="3" height="24" fill="#ef5350"/>
<rect x="1081.0" y="361" width="1" height="49" fill="#ef5350"/>
<rect x="1080.0" y="362" width="3" height="48" fill="#ef5350"/>
</g>
<g clip-path="url(#rc)">
<polyline points="43.50,565.06 47.50,564.26 52.50,563.41 56.50,564.67 61.50,565.55 65.50,566.52 70.50,567.62 75.50,568.82 79.50,568.76 84.50,568.84 88.50,568.48 93.50,567.85 97.50,568.09 102.50,570.61 107.50,572.61 111.50,574.73 116.50,577.57 120.50,578.53 125.50,579.23 129.50,581.21 134.50,583.82 139.50,586.54 143.50,589.72 148.50,593.28 152.50,597.35 157.50,601.82 161.50,604.45 166.50,605.08 171.50,606.85 175.50,608.77 180.50,609.73 184.50,611.07 189.50,613.18 194.50,614.09 198.50,614.80 203.50,615.68 207.50,616.72 212.50,617.71 216.50,619.09 221.50,619.42 226.50,621.54 230.50,623.04 235.50,624.64 239.50,626.74 244.50,628.64 248.50,630.23 253.50,631.79 258.50,633.46 262.50,635.32 267.50,637.02 271.50,639.02 276.50,639.09 280.50,638.97 285.50,639.38 290.50,638.77 294.50,638.14 299.50,637.26 303.50,635.86 308.50,634.69 312.50,633.91 317.50,632.82 322.50,630.60 326.50,627.80 331.50,624.69 335.50,620.99 340.50,619.13 344.50,617.32 349.50,615.50 354.50,614.08 358.50,612.97 363.50,611.21 367.50,609.35 372.50,608.10 376.50,605.97 381.50,603.39 386.50,601.78 390.50,600.71 395.50,599.60 399.50,598.96 404.50,599.58 408.50,600.75 413.50,602.28 418.50,603.27 422.50,604.76 427.50,605.76 431.50,606.84 436.50,607.37 440.50,608.64 445.50,610.09 450.50,610.94 454.50,612.25 459.50,614.52 463.50,616.97 468.50,617.61 472.50,617.54 477.50,616.75 482.50,615.83 486.50,615.33 491.50,616.18 495.50,617.31 500.50,618.58 504.50,619.36 509.50,620.98 514.50,622.79 518.50,623.50 523.50,623.86 527.50,623.00 532.50,622.66 536.50,621.65 541.50,620.28 546.50,618.78 550.50,616.45 555.50,614.00 559.50,610.76 564.50,607.69 568.50,605.76 573.50,603.95 578.50,601.36 582.50,598.68 587.50,596.34 591.50,595.44 596.50,594.12 600.50,594.24 605.50,595.57 610.50,596.73 614.50,598.51 619.50,599.53 623.50,600.51 628.50,601.47 632.50,601.42 637.50,600.69 642.50,600.82 646.50,601.93 651.50,602.46 655.50,601.41 660.50,600.46 664.50,597.77 669.50,594.56 674.50,591.38 678.50,587.64 683.50,585.67 687.50,584.14 692.50,582.47 696.50,581.74 701.50,581.64 706.50,581.35 710.50,580.05 715.50,579.40 719.50,579.82 724.50,580.34 728.50,582.12 733.50,584.08 738.50,586.03 742.50,587.87 747.50,588.47 751.50,588.66 756.50,588.63 760.50,588.53 765.50,588.21 770.50,588.21 774.50,588.58 779.50,588.37 783.50,588.40 788.50,588.92 792.50,588.70 797.50,588.53 802.50,587.49 806.50,586.16 811.50,584.93 815.50,583.75 820.50,582.72 825.50,581.71 829.50,582.49 834.50,583.01 838.50,584.32 843.50,585.86 847.50,587.15 852.50,587.48 857.50,588.50 861.50,589.56 866.50,592.11 870.50,595.55 875.50,599.33 879.50,603.95 884.50,608.71 889.50,612.38 893.50,613.63 898.50,615.38 902.50,616.30 907.50,616.92 911.50,617.97 916.50,620.34 921.50,621.27 925.50,623.05 930.50,625.60 934.50,628.24 939.50,629.95 943.50,631.89 948.50,632.76 953.50,633.64 957.50,634.70 962.50,635.89 966.50,637.23 971.50,638.40 975.50,638.41 980.50,637.35 985.50,636.72 989.50,635.96 994.50,634.73 998.50,632.61 1003.50,630.74 1007.50,629.03 1012.50,628.50 1017.50,628.24 1021.50,628.50 1026.50,627.80 1030.50,627.05 1035.50,626.71 1039.50,626.00 1044.50,625.66 1049.50,626.01 1053.50,625.26 1058.50,624.41 1062.50,624.23 1067.50,625.36 1071.50,626.21 1076.50,627.53 1081.50,629.84" fill="none" stroke="#f5d63b" stroke-width="1"/>
<polyline points="1.5,564.81 6.50,559.92 11.50,558.18 15.50,569.24 20.50,565.07 24.50,569.02 29.50,568.82 33.50,570.51 38.50,564.59 43.50,560.20 47.50,557.07 52.50,554.89 56.50,578.55 61.50,576.08 65.50,579.18 70.50,575.32 75.50,575.01 79.50,568.40 84.50,566.18 88.50,563.91 93.50,559.96 97.50,573.88 102.50,599.93 107.50,588.22 111.50,586.72 116.50,594.58 120.50,592.11 125.50,585.89 129.50,606.87 134.50,611.90 139.50,613.09 143.50,612.82 148.50,616.04 152.50,620.90 157.50,622.60 161.50,610.59 166.50,608.85 171.50,613.01 175.50,613.52 180.50,608.02 184.50,610.85 189.50,615.52 194.50,619.51 198.50,621.87 203.50,625.47 207.50,627.28 212.50,630.02 216.50,640.21 221.50,627.22 226.50,640.23 230.50,629.86 235.50,635.41 239.50,642.93 244.50,634.56 248.50,633.15 253.50,637.38 258.50,642.91 262.50,647.77 267.50,649.29 271.50,655.26 276.50,631.12 280.50,638.45 285.50,632.92 290.50,631.69 294.50,621.17 299.50,623.00 303.50,623.38 308.50,618.11 312.50,622.35 317.50,622.00 322.50,611.91 326.50,608.55 331.50,605.81 335.50,603.36 340.50,605.19 344.50,613.06 349.50,607.44 354.50,611.80 358.50,605.60 363.50,598.41 367.50,597.34 372.50,600.64 376.50,592.45 381.50,585.97 386.50,589.26 390.50,593.58 395.50,590.24 399.50,594.51 404.50,613.87 408.50,629.43 413.50,628.82 418.50,625.67 422.50,626.50 427.50,612.40 431.50,612.40 436.50,608.04 440.50,610.23 445.50,606.26 450.50,601.13 454.50,612.05 459.50,621.93 463.50,628.82 468.50,622.79 472.50,628.46 477.50,617.79 482.50,612.76 486.50,619.54 491.50,624.30 495.50,628.19 500.50,625.85 504.50,621.17 509.50,628.92 514.50,626.46 518.50,622.02 523.50,626.98 527.50,616.84 532.50,617.93 536.50,614.31 541.50,598.67 546.50,591.75 550.50,586.99 555.50,589.98 559.50,582.84 564.50,582.84 568.50,594.08 573.50,603.55 578.50,590.32 582.50,584.45 587.50,594.17 591.50,604.29 596.50,599.40 600.50,616.02 605.50,617.24 610.50,608.08 614.50,611.86 619.50,604.33 623.50,596.55 628.50,596.26 632.50,593.37 637.50,593.37 642.50,592.10 646.50,600.00 651.50,601.55 655.50,589.69 660.50,585.96 664.50,578.42 669.50,572.24 674.50,563.56 678.50,559.54 683.50,576.72 687.50,575.12 692.50,572.89 696.50,583.25 701.50,591.94 706.50,587.96 710.50,581.82 715.50,592.50 719.50,595.59 724.50,593.25 728.50,603.29 733.50,599.64 738.50,590.86 742.50,585.33 747.50,585.14 751.50,577.80 756.50,572.45 760.50,581.80 765.50,587.46 770.50,588.04 774.50,586.97 779.50,589.56 783.50,595.96 788.50,600.52 792.50,600.21 797.50,597.37 802.50,576.29 806.50,566.70 811.50,567.91 815.50,561.19 820.50,558.10 825.50,567.62 829.50,598.42 834.50,595.30 838.50,605.33 843.50,611.07 847.50,614.12 852.50,605.01 857.50,614.53 861.50,612.23 866.50,611.93 870.50,614.90 875.50,620.86 879.50,625.85 884.50,624.81 889.50,618.94 893.50,616.00 898.50,619.67 902.50,618.27 907.50,619.71 911.50,628.85 916.50,638.19 921.50,627.63 925.50,637.05 930.50,647.68 934.50,651.87 939.50,644.80 943.50,652.97 948.50,636.99 953.50,631.31 957.50,630.73 962.50,636.36 966.50,637.04 971.50,636.08 975.50,628.98 980.50,623.40 985.50,618.77 989.50,626.52 994.50,630.39 998.50,622.18 1003.50,618.65 1007.50,628.98 1012.50,629.55 1017.50,627.68 1021.50,634.45 1026.50,626.50 1030.50,626.50 1035.50,631.38 1039.50,619.07 1044.50,618.65 1049.50,623.69 1053.50,615.99 1058.50,618.41 1062.50,619.79 1067.50,634.39 1071.50,640.86 1076.50,648.13 1081.50,660.01" fill="none" stroke="#7e57c2" stroke-width="1"/>
</g>
<g clip-path="url(#pc)">
<line x1="957.5" y1="235.14" x2="1149.5" y2="235.14" stroke="#0c2e93" stroke-width="3.8"/>
<line x1="943.5" y1="323.69" x2="1149.5" y2="323.69" stroke="#0c2e93" stroke-width="3.8"/>
<line x1="605.5" y1="390.09" x2="1149.5" y2="390.09" stroke="#0c2e93" stroke-width="3.8"/>
<line x1="276.0" y1="446.58" x2="1149.5" y2="446.58" stroke="#0c2e93" stroke-width="3.8"/>
<line x1="605.1" y1="47.50" x2="1149.5" y2="47.50" stroke="#1b5e20" stroke-width="1"/>
<line x1="605.1" y1="390.50" x2="1149.5" y2="390.50" stroke="#1b5e20" stroke-width="1"/>
<line x1="605.1" y1="483.50" x2="1149.5" y2="483.50" stroke="#1b5e20" stroke-width="1"/>
<line x1="605.5" y1="390.5" x2="824.6" y2="47.5" stroke="#1b5e20" stroke-width="1.1" stroke-dasharray="5.5 5.5"/>
<line x1="5" y1="410.5" x2="1149.5" y2="410.5" stroke="#ef5350" stroke-width="1" stroke-dasharray="1 2"/>
<line x1="669.4" y1="281.5" x2="975.2" y2="186.2" stroke="#135718" stroke-width="3" stroke-linecap="round"/>
<line x1="820.5" y1="58" x2="820.5" y2="232" stroke="#135718" stroke-width="3" stroke-dasharray="3 6"/>
<line x1="912.4" y1="210.5" x2="912.4" y2="386" stroke="#135718" stroke-width="3" stroke-dasharray="3 6"/>
<path d="M734.90,176.50 C735.55,174.80 737.40,170.35 738.80,166.30 C740.20,162.25 741.82,156.92 743.30,152.20 C744.78,147.48 746.38,141.47 747.70,138.00 C749.02,134.53 749.87,133.62 751.20,131.40 C752.53,129.18 754.52,126.03 755.70,124.70 C756.88,123.37 757.42,123.32 758.30,123.40 C759.18,123.48 759.97,123.80 761.00,125.20 C762.03,126.60 763.55,129.82 764.50,131.80 C765.45,133.78 765.88,135.03 766.70,137.10 C767.52,139.17 768.80,141.68 769.40,144.20 C770.00,146.72 769.93,149.40 770.30,152.20 C770.67,155.00 770.80,157.98 771.60,161.00 C772.40,164.02 774.52,168.75 775.10,170.30" fill="none" stroke="#135718" stroke-width="2.1" stroke-linecap="round" stroke-linejoin="round"/>
<path d="M798.40,93.30 C798.65,90.85 799.35,83.92 799.90,78.60 C800.45,73.28 801.08,66.50 801.70,61.40 C802.32,56.30 802.88,51.87 803.60,48.00 C804.32,44.13 804.98,41.47 806.00,38.20 C807.02,34.93 808.17,31.57 809.70,28.40 C811.23,25.23 813.17,21.15 815.20,19.20 C817.23,17.25 820.07,16.80 821.90,16.70 C823.73,16.60 824.87,17.27 826.20,18.60 C827.53,19.93 828.88,22.25 829.90,24.70 C830.92,27.15 831.63,30.03 832.30,33.30 C832.97,36.57 833.55,40.83 833.90,44.30 C834.25,47.77 834.15,51.25 834.40,54.10 C834.65,56.95 834.67,59.40 835.40,61.40 C836.13,63.40 838.23,65.32 838.80,66.10" fill="none" stroke="#135718" stroke-width="2.1" stroke-linecap="round" stroke-linejoin="round"/>
<path d="M884.30,169.70 C884.37,168.27 884.45,164.15 884.70,161.10 C884.95,158.05 885.30,154.27 885.80,151.40 C886.30,148.53 886.95,146.52 887.70,143.90 C888.45,141.28 889.30,137.75 890.30,135.70 C891.30,133.65 892.38,132.72 893.70,131.60 C895.02,130.48 897.02,129.18 898.20,129.00 C899.38,128.82 900.05,129.50 900.80,130.50 C901.55,131.50 902.13,133.13 902.70,135.00 C903.27,136.87 903.65,139.47 904.20,141.70 C904.75,143.93 905.45,146.28 906.00,148.40 C906.55,150.52 907.22,152.40 907.50,154.40 C907.78,156.40 907.67,159.40 907.70,160.40" fill="none" stroke="#135718" stroke-width="2.1" stroke-linecap="round" stroke-linejoin="round"/>
</g>
<text x="1140.0" y="57.9" font-size="12" fill="#1b5e20" text-anchor="end" font-weight="normal" >0(772.5)</text>
<text x="1140.0" y="401.5" font-size="12" fill="#1b5e20" text-anchor="end" font-weight="normal" >1(323.0)</text>
<text x="1140.0" y="493.9" font-size="12" fill="#1b5e20" text-anchor="end" font-weight="normal" >1.272(200.5)</text>
<line x1="5" y1="538.5" x2="1204.5" y2="538.5" stroke="#e0e1e6" stroke-width="1"/>
<line x1="5" y1="672.5" x2="1204.5" y2="672.5" stroke="#e0e1e6" stroke-width="1"/>
<line x1="1149.5" y1="2" x2="1149.5" y2="699" stroke="#e0e1e6" stroke-width="1"/>
<rect x="4.9" y="2" width="1200.1" height="698" fill="none" stroke="#eaebf0" stroke-width="1.8"/>
<text x="1159.2" y="30.60" font-size="12" fill="#131722" text-anchor="start" font-weight="normal" >800.0</text>
<text x="1159.2" y="61.13" font-size="12" fill="#131722" text-anchor="start" font-weight="normal" >760.0</text>
<text x="1159.2" y="91.66" font-size="12" fill="#131722" text-anchor="start" font-weight="normal" >720.0</text>
<text x="1159.2" y="122.20" font-size="12" fill="#131722" text-anchor="start" font-weight="normal" >680.0</text>
<text x="1159.2" y="152.73" font-size="12" fill="#131722" text-anchor="start" font-weight="normal" >640.0</text>
<text x="1159.2" y="183.26" font-size="12" fill="#131722" text-anchor="start" font-weight="normal" >600.0</text>
<text x="1159.2" y="213.79" font-size="12" fill="#131722" text-anchor="start" font-weight="normal" >560.0</text>
<text x="1159.2" y="244.32" font-size="12" fill="#131722" text-anchor="start" font-weight="normal" >520.0</text>
<text x="1159.2" y="274.86" font-size="12" fill="#131722" text-anchor="start" font-weight="normal" >480.0</text>
<text x="1159.2" y="305.39" font-size="12" fill="#131722" text-anchor="start" font-weight="normal" >440.0</text>
<text x="1159.2" y="335.92" font-size="12" fill="#131722" text-anchor="start" font-weight="normal" >400.0</text>
<text x="1159.2" y="366.45" font-size="12" fill="#131722" text-anchor="start" font-weight="normal" >360.0</text>
<text x="1159.2" y="396.98" font-size="12" fill="#131722" text-anchor="start" font-weight="normal" >320.0</text>
<text x="1159.2" y="427.52" font-size="12" fill="#131722" text-anchor="start" font-weight="normal" >280.0</text>
<text x="1159.2" y="458.05" font-size="12" fill="#131722" text-anchor="start" font-weight="normal" >240.0</text>
<text x="1159.2" y="488.58" font-size="12" fill="#131722" text-anchor="start" font-weight="normal" >200.0</text>
<text x="1159.2" y="519.11" font-size="12" fill="#131722" text-anchor="start" font-weight="normal" >160.0</text>
<text x="1159.2" y="567.30" font-size="12" fill="#131722" text-anchor="start" font-weight="normal" >80.00</text>
<text x="1159.2" y="601.50" font-size="12" fill="#131722" text-anchor="start" font-weight="normal" >60.00</text>
<text x="1159.2" y="635.70" font-size="12" fill="#131722" text-anchor="start" font-weight="normal" >40.00</text>
<text x="1159.2" y="669.90" font-size="12" fill="#131722" text-anchor="start" font-weight="normal" >20.00</text>
<rect x="1161.5" y="8.5" width="31" height="18" rx="4" fill="#fff" stroke="#e0e3eb" stroke-width="1"/>
<text x="1166.3" y="21.2" font-size="11.5" fill="#131722" text-anchor="start" font-weight="normal" textLength="21.6" lengthAdjust="spacingAndGlyphs">HKD</text>
<path d="M1149,227.14 h43.8 a2,2 0 0 1 2,2 v12.8 a2,2 0 0 1 -2,2 h-43.8 z" fill="#0c2e93"/>
<text x="1159.2" y="239.84" font-size="12" fill="#fff" text-anchor="start" font-weight="bold" >526.0</text>
<path d="M1149,315.69 h43.8 a2,2 0 0 1 2,2 v12.8 a2,2 0 0 1 -2,2 h-43.8 z" fill="#0c2e93"/>
<text x="1159.2" y="328.39" font-size="12" fill="#fff" text-anchor="start" font-weight="bold" >410.0</text>
<path d="M1149,382.09 h43.8 a2,2 0 0 1 2,2 v12.8 a2,2 0 0 1 -2,2 h-43.8 z" fill="#0c2e93"/>
<text x="1159.2" y="394.79" font-size="12" fill="#fff" text-anchor="start" font-weight="bold" >323.0</text>
<path d="M1149,438.58 h43.8 a2,2 0 0 1 2,2 v12.8 a2,2 0 0 1 -2,2 h-43.8 z" fill="#0c2e93"/>
<text x="1159.2" y="451.28" font-size="12" fill="#fff" text-anchor="start" font-weight="bold" >249.0</text>
<path d="M1149,402.2 h49.7 a2,2 0 0 1 2,2 v26.6 a2,2 0 0 1 -2,2 h-49.7 z" fill="#ef5350"/>
<text x="1159.2" y="414.6" font-size="12" fill="#fff" text-anchor="start" font-weight="bold" >297.0</text>
<text x="1159.2" y="428.8" font-size="12" fill="#fff" text-anchor="start" font-weight="normal" >2d 15h</text>
<path d="M1068.2,622.2 h79.5 v16.4 h-79.5 a2,2 0 0 1 -2,-2 v-12.4 a2,2 0 0 1 2,-2 z" fill="#ffeb3b"/>
<path d="M1149.2,622.2 h43.6 a2,2 0 0 1 2,2 v12.4 a2,2 0 0 1 -2,2 h-43.6 z" fill="#ffeb3b"/>
<text x="1071.9" y="635.0" font-size="12" fill="#131722" text-anchor="start" font-weight="normal" textLength="70.2" lengthAdjust="spacingAndGlyphs">RSI-based MA</text>
<text x="1159.2" y="634.9" font-size="12" fill="#131722" text-anchor="start" font-weight="normal" >40.85</text>
<path d="M1122.2,652 h25.5 v16.7 h-25.5 a2,2 0 0 1 -2,-2 v-12.7 a2,2 0 0 1 2,-2 z" fill="#7e57c2"/>
<path d="M1149.2,652 h43.6 a2,2 0 0 1 2,2 v12.7 a2,2 0 0 1 -2,2 h-43.6 z" fill="#7e57c2"/>
<text x="1126.2" y="664.7" font-size="12" fill="#fff" text-anchor="start" font-weight="bold" textLength="15.6" lengthAdjust="spacingAndGlyphs">RSI</text>
<text x="1159.2" y="664.7" font-size="12" fill="#fff" text-anchor="start" font-weight="bold" >23.07</text>
<text x="79.5" y="689.8" font-size="12.3" fill="#131722" text-anchor="middle" font-weight="normal" textLength="27.3" lengthAdjust="spacingAndGlyphs" stroke="#131722" stroke-width="0.45">2018</text>
<text x="161.6" y="689.8" font-size="12" fill="#131722" text-anchor="middle" font-weight="normal" >May</text>
<text x="322.3" y="689.8" font-size="12.3" fill="#131722" text-anchor="middle" font-weight="normal" textLength="27.3" lengthAdjust="spacingAndGlyphs" stroke="#131722" stroke-width="0.45">2019</text>
<text x="418.5" y="689.8" font-size="12" fill="#131722" text-anchor="middle" font-weight="normal" >Jun</text>
<text x="559.5" y="689.8" font-size="12.3" fill="#131722" text-anchor="middle" font-weight="normal" textLength="27.3" lengthAdjust="spacingAndGlyphs" stroke="#131722" stroke-width="0.45">2020</text>
<text x="655.6" y="689.8" font-size="12" fill="#131722" text-anchor="middle" font-weight="normal" >Jun</text>
<text x="797.3" y="689.8" font-size="12.3" fill="#131722" text-anchor="middle" font-weight="normal" textLength="27.3" lengthAdjust="spacingAndGlyphs" stroke="#131722" stroke-width="0.45">2021</text>
<text x="898.5" y="689.8" font-size="12" fill="#131722" text-anchor="middle" font-weight="normal" >Jun</text>
<text x="1035.3" y="689.8" font-size="12.3" fill="#131722" text-anchor="middle" font-weight="normal" textLength="27.3" lengthAdjust="spacingAndGlyphs" stroke="#131722" stroke-width="0.45">2022</text>
<text x="1136.8" y="689.8" font-size="12" fill="#131722" text-anchor="middle" font-weight="normal" >Jun</text>
<rect x="67" y="2.5" width="78" height="25.3" fill="#fff"/>
<text x="12.8" y="21.3" font-size="12" fill="#131722" text-anchor="start" font-weight="normal" textLength="52.2" lengthAdjust="spacingAndGlyphs">0700, 1W,</text>
<text x="144.9" y="21.7" font-size="11.5" fill="#131722" text-anchor="start" font-weight="normal" textLength="9.0" lengthAdjust="spacingAndGlyphs">O</text>
<text x="153.9" y="21.7" font-size="11.5" fill="#ef5350" text-anchor="start" font-weight="normal" textLength="27.2" lengthAdjust="spacingAndGlyphs">353.5</text>
<text x="188.9" y="21.7" font-size="11.5" fill="#131722" text-anchor="start" font-weight="normal" textLength="8.6" lengthAdjust="spacingAndGlyphs">H</text>
<text x="197.5" y="21.7" font-size="11.5" fill="#ef5350" text-anchor="start" font-weight="normal" textLength="28.1" lengthAdjust="spacingAndGlyphs">359.5</text>
<text x="233.8" y="21.7" font-size="11.5" fill="#131722" text-anchor="start" font-weight="normal" textLength="7.0" lengthAdjust="spacingAndGlyphs">L</text>
<text x="240.8" y="21.7" font-size="11.5" fill="#ef5350" text-anchor="start" font-weight="normal" textLength="28.1" lengthAdjust="spacingAndGlyphs">297.0</text>
<text x="276.7" y="21.7" font-size="11.5" fill="#131722" text-anchor="start" font-weight="normal" textLength="8.6" lengthAdjust="spacingAndGlyphs">C</text>
<text x="285.3" y="21.7" font-size="11.5" fill="#ef5350" text-anchor="start" font-weight="normal" textLength="27.6" lengthAdjust="spacingAndGlyphs">297.0</text>
<text x="321.0" y="21.7" font-size="11.5" fill="#ef5350" text-anchor="start" font-weight="normal" textLength="83.9" lengthAdjust="spacingAndGlyphs">−71.5 (−19.40%)</text>
<g fill="#131722"><path d="M5.1,712.2 h8 v9.7 h-3.6 v-6.1 h-4.4 z"/><circle cx="16.5" cy="714.0" r="1.9"/><path d="M20.5,712.2 L24.2,712.2 L19.7,721.9 L16.0,721.9 Z"/></g>
<text x="28.2" y="721.9" font-size="13" fill="#2a2e39" text-anchor="start" font-weight="normal" textLength="70.1" lengthAdjust="spacingAndGlyphs">TradingView</text>
<rect x="57.4" y="91.6" width="399.9" height="59.6" fill="#fff"/>
<g fill="#063b4d">
<path d="M59.9,92.9 h45.7 v14.3 h-30.1 v9.9 h27.5 v12.7 h-27.5 v20.7 h-15.6 z"/>
</g>
<path fill="#0cb35b" fill-rule="evenodd" d="M139.30,91.90 C156.82,91.90 168.50,103.68 168.50,121.35 C168.50,139.02 156.82,150.80 139.30,150.80 C121.78,150.80 110.10,139.02 110.10,121.35 C110.10,103.68 121.78,91.90 139.30,91.90 Z M139.10,100.10 C147.81,100.10 151.20,106.22 151.20,121.95 C151.20,137.68 147.81,143.80 139.10,143.80 C130.39,143.80 127.00,137.68 127.00,121.95 C127.00,106.22 130.39,100.10 139.10,100.10 Z"/>
<path fill="#0cb35b" d="M143.4,115.1 L176.5,115.1 L174.5,120.2 L141.3,120.2 Z M142.3,125.8 L175.5,125.8 L173.5,130.4 L140.3,130.4 Z"/>
<g fill="#063b4d">
<path fill-rule="evenodd" d="M181.9,92.9 h27 c14,0 22,7.5 22,18.5 c0,8 -4,13.5 -10.5,16 l13.8,22.9 h-17.6 l-11.8,-20.5 h-7.3 v20.5 h-15.6 z M197.5,106.4 v15.2 h10.5 c5,0 7.8,-3 7.8,-7.6 c0,-4.6 -2.8,-7.6 -7.8,-7.6 z"/>
<path d="M239.1,92.9 h48.2 v13.2 h-32.6 v11 h30.1 v11.9 h-30.1 v9.1 h32.6 v12.3 h-48.2 z"/>
<path d="M292.7,92.9 h18 l10.8,17.5 l10.8,-17.5 h17.3 l-19.3,28.2 l20,29.3 h-18 l-11.3,-18.2 l-11.3,18.2 h-17.3 l19.8,-29 z"/>
</g>
<g fill="#063b4d">
<circle cx="359.3" cy="130.1" r="4.3"/>
<path d="M388.21,116.06 A12.1,12.1 0 1 0 388.21,129.94 L382.89,126.21 A5.6,5.6 0 1 1 382.89,119.79 Z"/>
<path fill-rule="evenodd" d="M390.3,123 A12.45,12.1 0 1 0 415.2,123 A12.45,12.1 0 1 0 390.3,123 Z M397.75,123 A5,5.6 0 1 0 407.75,123 A5,5.6 0 1 0 397.75,123 Z"/>
<rect x="419.3" y="111.6" width="7.7" height="23"/>
<path d="M419.3,134.6 V121.95 A11.05,11.05 0 0 1 441.4,121.95 V134.6 H434.2 V121.95 A3.6,3.6 0 0 0 427,121.95 V134.6 Z"/>
<path d="M434.2,134.6 V121.95 A10.85,10.85 0 0 1 455.9,121.95 V134.6 H448.2 V121.95 A3.4,3.4 0 0 0 441.4,121.95 V134.6 Z"/>
</g>
</svg></body></html>
